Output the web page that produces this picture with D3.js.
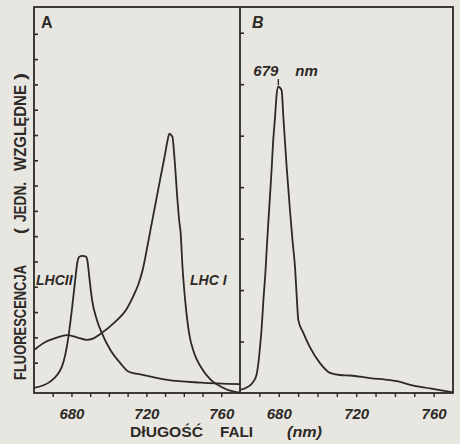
<!DOCTYPE html>
<html>
<head>
<meta charset="utf-8">
<script src="https://cdn.jsdelivr.net/npm/d3@7"></script>
<style>
  body { margin: 0; background: #e8e6e0; }
  svg { display: block; }
  text { fill: #2d2926; font-family: "Liberation Sans", Arial, sans-serif; }
</style>
</head>
<body>
<script>
const w = 460;
const h = 444;
const frame = { top: 7, bottom: 393, left: 34, mid: 240, right: 453 };
const ink = '#2d2926';

// panel A: LHC II
const lhc2Wave = [660, 668.6, 674.9, 678.4, 680.2, 682.0, 683.2, 684.1, 685.8, 687.9, 688.6, 689.7, 691.0, 693.6, 696.3, 700.8, 706.1, 710.6, 718.6, 731.2, 749.1, 770];
const lhc2Val  = [0.0, 0.25, 0.84, 2.03, 3.08, 4.27, 4.99, 5.18, 5.22, 5.18, 4.99, 4.27, 3.48, 2.69, 2.16, 1.50, 0.98, 0.64, 0.51, 0.32, 0.21, 0.15];

// panel A: LHC I
const lhc1Wave = [660, 665, 672.2, 677.5, 682.9, 688.3, 691.8, 695.4, 702.6, 709.7, 713.1, 715.8, 718.0, 720.1, 722.2, 724.9, 727.6, 729.8, 731.2, 732.3, 733.9, 735.1, 736.6, 737.5, 738.3, 739.3, 740.7, 742.8, 745.5, 749.1, 754.4, 759.8, 766.8, 770];
const lhc1Val  = [1.50, 1.77, 1.99, 2.09, 2.00, 1.90, 1.96, 2.13, 2.56, 3.15, 3.64, 4.11, 4.66, 5.42, 6.25, 7.29, 8.34, 9.17, 9.74, 10.05, 9.93, 9.01, 7.43, 6.64, 6.13, 4.78, 3.48, 2.17, 1.38, 0.83, 0.32, 0.05, -0.15, -0.19];

// panel B
const bWave = [660, 664.1, 666.7, 668.5, 669.3, 670.1, 671.1, 672.1, 673.2, 673.9, 674.7, 675.5, 676.4, 677.0, 678.1, 678.9, 679.8, 681.5, 682.4, 684.1, 685.8, 687.1, 688.4, 689.4, 690.1, 692.7, 696.1, 701.3, 706.5, 711.6, 716.8, 727.1, 737.5, 741.1, 747.8, 758.1, 770];
const bVal  = [0.06, 0.12, 0.21, 0.35, 0.52, 0.80, 1.22, 1.81, 2.39, 2.87, 3.36, 3.84, 4.39, 4.82, 5.36, 5.79, 5.95, 5.88, 5.36, 4.39, 3.55, 2.97, 2.45, 1.81, 1.42, 1.17, 0.89, 0.58, 0.39, 0.35, 0.34, 0.29, 0.25, 0.23, 0.16, 0.09, 0.01];

const xTicks = [670, 680, 690, 700, 710, 720, 730, 740, 750, 760];
const xLabels = [680, 720, 760];
const yTicksA = d3.range(1, 15);
const yTicksB = d3.range(1, 8);
const peakB = 679.8;

const svg = d3.select('body').append('svg')
  .attr('width', w)
  .attr('height', h);

svg.append('rect').attr('width', w).attr('height', h).attr('fill', '#e8e6e0');

const xA = d3.scaleLinear().domain([660, 770]).range([frame.left, frame.mid]);
const xB = d3.scaleLinear().domain([660, 770]).range([frame.mid, frame.right]);
const yA = d3.scaleLinear().domain([-0.2, 15.06]).range([frame.bottom, frame.top]);
const yB = d3.scaleLinear().domain([0, 7.5]).range([frame.bottom, frame.top]);

function drawAxes(x, y, yTicks, left) {
  const xAxis = d3.axisBottom(x)
    .tickValues(xTicks)
    .tickSizeInner(4)
    .tickSizeOuter(0)
    .tickPadding(11)
    .tickFormat(d => xLabels.includes(d) ? d : '');
  const gx = svg.append('g')
    .attr('transform', `translate(0, ${frame.bottom})`)
    .call(xAxis);
  gx.select('.domain').remove();
  gx.selectAll('line').attr('stroke', ink).attr('stroke-width', 1.4);
  gx.selectAll('text')
    .attr('fill', ink)
    .style('font-size', '15px')
    .style('font-style', 'italic')
    .style('font-weight', 'bold');

  const yAxis = d3.axisRight(y)
    .tickValues(yTicks)
    .tickSizeInner(4)
    .tickSizeOuter(0)
    .tickFormat('');
  const gy = svg.append('g')
    .attr('transform', `translate(${left}, 0)`)
    .call(yAxis);
  gy.select('.domain').remove();
  gy.selectAll('line').attr('stroke', ink).attr('stroke-width', 1.6);
}

drawAxes(xA, yA, yTicksA, frame.left);
drawAxes(xB, yB, yTicksB, frame.mid);

// frames
svg.append('rect')
  .attr('x', frame.left).attr('y', frame.top)
  .attr('width', frame.right - frame.left).attr('height', frame.bottom - frame.top)
  .attr('fill', 'none').attr('stroke', ink).attr('stroke-width', 1.8);
svg.append('line')
  .attr('x1', frame.mid).attr('x2', frame.mid)
  .attr('y1', frame.top).attr('y2', frame.bottom)
  .attr('stroke', ink).attr('stroke-width', 1.8);

function curve(x, y, wave, vals) {
  const line = d3.line()
    .x(d => x(d[0]))
    .y(d => y(d[1]))
    .curve(d3.curveMonotoneX);
  svg.append('path')
    .datum(d3.zip(wave, vals))
    .attr('d', line)
    .attr('fill', 'none')
    .attr('stroke', ink)
    .attr('stroke-width', 1.8)
    .attr('stroke-linejoin', 'round');
}

curve(xA, yA, lhc2Wave, lhc2Val);
curve(xA, yA, lhc1Wave, lhc1Val);
curve(xB, yB, bWave, bVal);

// peak marker in B
svg.append('line')
  .attr('x1', xB(peakB)).attr('x2', xB(peakB))
  .attr('y1', yB(6.1)).attr('y2', yB(5.98))
  .attr('stroke', ink).attr('stroke-width', 1.4);

// panel letters and labels
svg.append('text').attr('x', 41).attr('y', 28).text('A')
  .style('font-size', '16px').style('font-weight', 'bold');
svg.append('text').attr('x', 252).attr('y', 28).text('B')
  .style('font-size', '16px').style('font-weight', 'bold').style('font-style', 'italic');

svg.append('text').attr('x', xB(peakB) - 25).attr('y', 76).text('679')
  .style('font-size', '15px').style('font-style', 'italic').style('font-weight', 'bold');
svg.append('text').attr('x', xB(peakB) + 17).attr('y', 76).text('nm')
  .style('font-size', '15px').style('font-style', 'italic').style('font-weight', 'bold');

svg.append('text').attr('x', 36).attr('y', 285).text('LHCII')
  .style('font-size', '14px').style('font-style', 'italic').style('font-weight', 'bold');
svg.append('text').attr('x', 190).attr('y', 285).text('LHC I')
  .style('font-size', '14px').style('font-style', 'italic').style('font-weight', 'bold');

// y title pieces: text, start (bottom), length
const yTitle = [['FLUORESCENCJA', 380, 115], ['(', 234, 6], ['JEDN.', 222, 40], ['WZGLĘDNE', 171, 86], [')', 80, 7]];
yTitle.forEach(p => {
  svg.append('text')
    .attr('transform', `translate(26, ${p[1]}) rotate(-90)`)
    .attr('textLength', p[2])
    .attr('lengthAdjust', 'spacingAndGlyphs')
    .text(p[0])
    .style('font-size', '16px')
    .style('font-weight', 'bold');
});

// x title pieces
const xTitle = [['DłUGOŚĆ', 130, 73, 'normal'], ['FALI', 220, 33, 'normal'], ['(nm)', 287, 35, 'italic']];
xTitle.forEach(p => {
  svg.append('text')
    .attr('x', p[1]).attr('y', 437)
    .attr('textLength', p[2])
    .attr('lengthAdjust', 'spacingAndGlyphs')
    .text(p[0])
    .style('font-size', '14px')
    .style('font-weight', 'bold')
    .style('font-style', p[3]);
});
</script>
</body>
</html>
